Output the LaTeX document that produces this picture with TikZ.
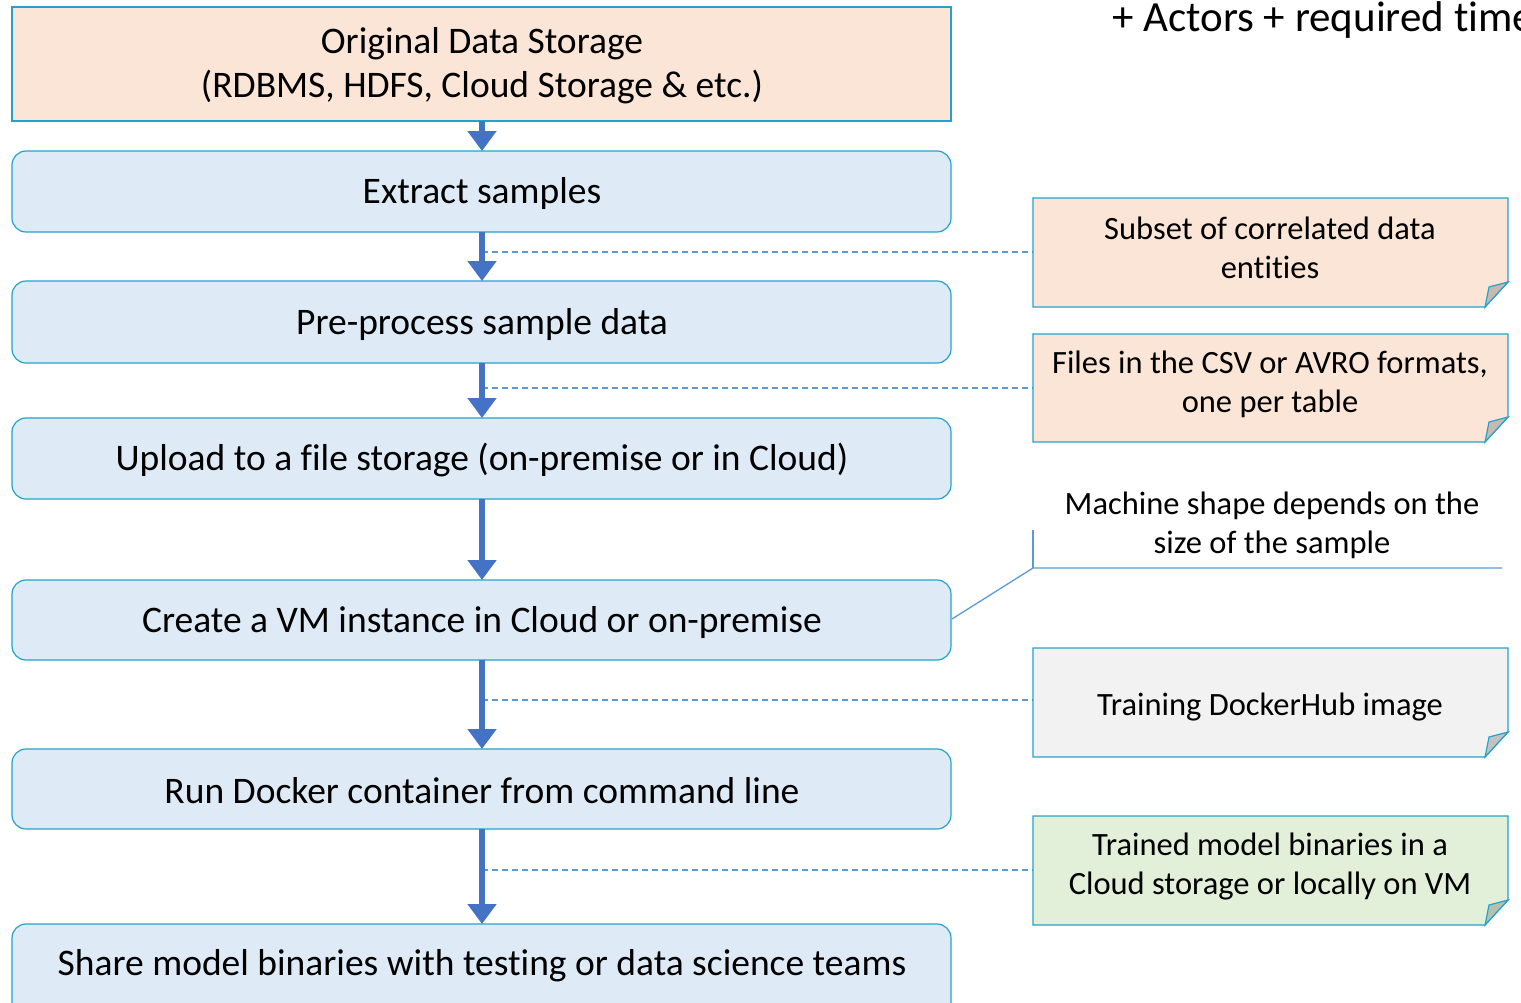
\documentclass[tikz,border=0pt]{standalone}
\usepackage{fontspec}
\setmainfont{Carlito}[Ligatures={NoCommon}]
\usetikzlibrary{arrows.meta}
\definecolor{boxfill}{HTML}{DEEBF7}
\definecolor{peach}{HTML}{FBE5D6}
\definecolor{edgec}{HTML}{23A3CC}
\definecolor{arrowc}{HTML}{4472C4}
\definecolor{dashc}{HTML}{5B9BD5}
\definecolor{greyfill}{HTML}{F2F2F2}
\definecolor{greenfill}{HTML}{E2F0D9}
\definecolor{peachfold}{HTML}{C9B8AD}
\definecolor{greyfold}{HTML}{C2C2C2}
\definecolor{greenfold}{HTML}{B5C0AE}
\tikzset{
  stepbox/.style={draw=edgec, line width=1.2pt, fill=boxfill, rounded corners=14pt},
  flowarrow/.style={draw=arrowc, line width=6pt, -{Triangle[length=20pt,width=28pt]}},
  dashlink/.style={draw=dashc, line width=1.3pt, dash pattern=on 6pt off 4pt},
  bigtext/.style={font=\fontsize{37.5}{44}\selectfont, align=center},
  notetext/.style={font=\fontsize{32.5}{39}\selectfont, align=center},
}
\newcommand{\notebox}[6]{% x1,y1,x2,y2,fill,foldfill
  \path[draw=edgec, line width=1.2pt, fill=#5] (#1,#2) -- (#3,#2) -- (#3,#4-25) -- (#3-23,#4) -- (#1,#4) -- cycle;
  \path[draw=edgec, line width=1.2pt, fill=#6] (#3,#4-25) -- (#3-19,#4-20) -- (#3-23,#4) -- cycle;
}
\begin{document}
\begin{tikzpicture}[x=1pt,y=-1pt]
\useasboundingbox (0,0) rectangle (1521,1002);
% main boxes
\path[draw=edgec, line width=1.2pt, fill=peach] (12,7) rectangle (951,121);
\node[bigtext] (orig) at (482,66) {Original Data Storage\\(RDBMS, HDFS, Cloud Storage \& etc.)};
\path[stepbox] (12,151) rectangle (951,232);
\node[bigtext] (extract) at (482,193) {Extract samples};
\path[stepbox] (12,281) rectangle (951,363);
\node[bigtext] (pre) at (482,324) {Pre-process sample data};
\path[stepbox] (12,418) rectangle (951,499);
\node[bigtext] (upload) at (482,460) {Upload to a file storage (on-premise or in Cloud)};
\path[stepbox] (12,580) rectangle (951,660);
\node[bigtext] (vm) at (482,622) {Create a VM instance in Cloud or on-premise};
\path[stepbox] (12,749) rectangle (951,829);
\node[bigtext] (run) at (482,791) {Run Docker container from command line};
\path[stepbox] (12,924) rectangle (951,1030);
\node[bigtext] (share) at (482,966) {Share model binaries with testing or data science teams};
% coordinates
\coordinate (a0) at (482,121);
\coordinate (a1) at (482,151);
\coordinate (b0) at (482,232);
\coordinate (b1) at (482,281);
\coordinate (c0) at (482,363);
\coordinate (c1) at (482,418);
\coordinate (d0) at (482,499);
\coordinate (d1) at (482,580);
\coordinate (e0) at (482,660);
\coordinate (e1) at (482,749);
\coordinate (f0) at (482,829);
\coordinate (f1) at (482,924);
% dashed links
\coordinate (l1) at (482,252); \coordinate (n1) at (1033,252);
\coordinate (l2) at (482,388); \coordinate (n2) at (1033,388);
\coordinate (l3) at (482,700); \coordinate (n3) at (1033,700);
\coordinate (l4) at (482,870); \coordinate (n4) at (1033,870);
\draw[dashlink] (l1) -- (n1);
\draw[dashlink] (l2) -- (n2);
\draw[dashlink] (l3) -- (n3);
\draw[dashlink] (l4) -- (n4);
% arrows
\draw[flowarrow] (a0) -- (a1);
\draw[flowarrow] (b0) -- (b1);
\draw[flowarrow] (c0) -- (c1);
\draw[flowarrow] (d0) -- (d1);
\draw[flowarrow] (e0) -- (e1);
\draw[flowarrow] (f0) -- (f1);
% notes
\notebox{1033}{198}{1508}{307}{peach}{peachfold}
\node[notetext] (note1) at (1270,248) {Subset of correlated data\\entities};
\notebox{1033}{334}{1508}{442}{peach}{peachfold}
\node[notetext] (note2) at (1270,384) {Files in the CSV or AVRO formats,\\one per table};
\notebox{1033}{648}{1508}{757}{greyfill}{greyfold}
\node[notetext] (note3) at (1270,707) {Training DockerHub image};
\notebox{1033}{816}{1508}{925}{greenfill}{greenfold}
\node[notetext] (note4) at (1270,866) {Trained model binaries in a\\Cloud storage or locally on VM};
% callout
\node[notetext] (callout) at (1272,525) {Machine shape depends on the\\size of the sample};
\coordinate (c1a) at (952,619);
\coordinate (c1b) at (1033,568);
\coordinate (c1c) at (1502,568);
\coordinate (c1d) at (1033,530);
\draw[dashc, line width=1.3pt] (c1a) -- (c1b) -- (c1c);
\draw[dashc, line width=1.3pt] (c1d) -- (c1b);
% top right text
\node[anchor=west, font=\fontsize{43}{50}\selectfont, inner sep=0pt] (actors) at (1112,20) {+ Actors + required time};
\end{tikzpicture}
\end{document}
